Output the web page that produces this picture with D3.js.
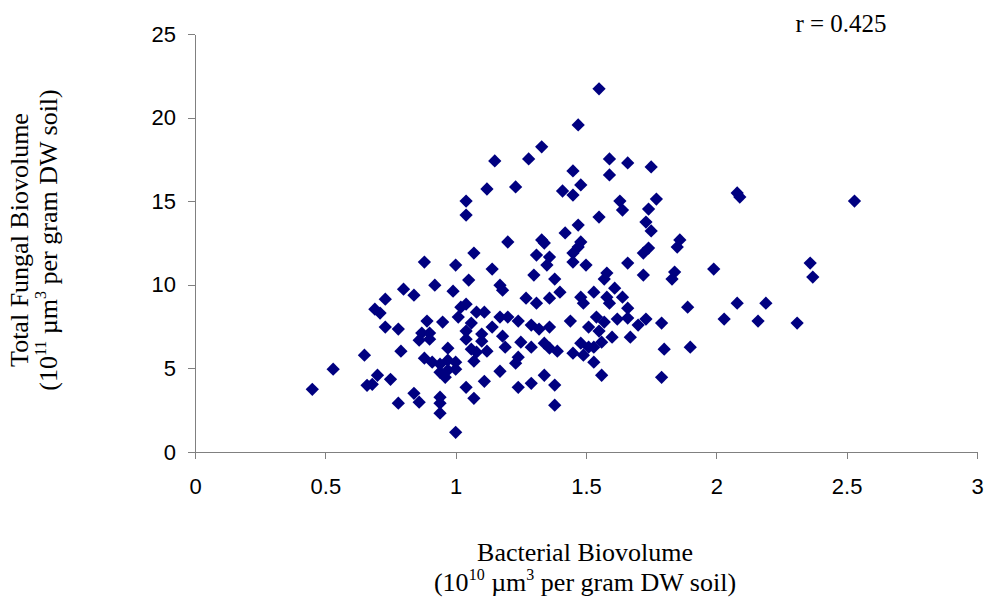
<!DOCTYPE html>
<html>
  <head>
    <title>Bacterial vs Fungal Biovolume</title>
    <style type="text/css">
        body{
            margin: 0;
            background: #fff;
        }
        .axis path, .axis line{
            stroke: #808080;
            stroke-width: 1px;
            shape-rendering: crispEdges;
        }
        .axis text{
            font-family: "Liberation Sans", Arial, sans-serif;
            font-size: 22px;
            fill: #000;
        }
        .title{
            font-family: "Liberation Serif", "Times New Roman", serif;
            font-size: 26px;
            fill: #000;
        }
        .point{
            fill: #000080;
        }
    </style>
  </head>
  <body>
    <div id="chart"></div>

    <script src="https://cdn.jsdelivr.net/npm/d3@7"></script>
    <script>
        //  Bacterial biovolume (10^10 um^3 per g DW soil)
        var bacterial = [
            0.45, 0.53, 0.65, 0.66, 0.68, 0.70, 0.75, 0.78, 0.69, 0.71,
            0.73, 0.73, 0.78, 0.80, 0.79, 0.84, 0.86, 0.84, 0.89, 0.95,
            0.87, 0.90, 0.86, 0.90, 0.97, 0.88, 0.91, 0.94, 0.97, 1.00,
            1.00, 0.94, 0.96, 0.97, 0.94, 0.94, 0.94, 1.00, 0.92, 1.00,
            0.88, 1.05, 0.99, 1.02, 1.04, 1.01, 1.04, 1.04, 1.06, 1.06,
            1.07, 1.04, 1.07, 1.07, 1.14, 1.20, 1.17, 1.18, 1.08, 1.11,
            1.14, 1.17, 1.20, 1.24, 1.10, 1.10, 1.18, 1.19, 1.08, 1.12,
            1.24, 1.23, 1.17, 1.11, 1.24, 1.29, 1.27, 1.31, 1.36, 1.40,
            1.29, 1.32, 1.36, 1.25, 1.29, 1.34, 1.36, 1.39, 1.34, 1.38,
            1.38, 1.33, 1.34, 1.31, 1.36, 1.35, 1.30, 1.38, 1.48, 1.47,
            1.45, 1.45, 1.50, 1.44, 1.51, 1.54, 1.57, 1.48, 1.49, 1.53,
            1.45, 1.48, 1.49, 1.51, 1.53, 1.53, 1.56, 1.55, 1.47, 1.33,
            1.28, 1.15, 1.45, 1.12, 1.23, 1.41, 1.45, 1.48, 1.04, 1.04,
            1.55, 1.47, 1.42, 1.59, 1.66, 1.75, 1.59, 1.63, 1.64, 1.77,
            1.74, 1.73, 1.75, 1.86, 1.85, 1.74, 1.72, 1.66, 1.72, 1.84,
            1.83, 1.99, 1.58, 1.57, 1.61, 1.58, 1.64, 1.59, 1.66, 1.89,
            1.62, 1.66, 1.70, 1.73, 1.79, 1.55, 1.56, 1.60, 1.67, 1.80,
            1.90, 1.79, 2.08, 2.09, 2.53, 2.36, 2.37, 2.08, 2.19, 2.03,
            2.16, 2.31
        ];

        //  Total fungal biovolume (10^11 um^3 per g DW soil), same order
        var fungal = [
            3.75, 4.95, 5.79, 3.99, 4.05, 4.59, 4.35, 2.92, 8.54, 8.31,
            9.14, 7.47, 7.35, 9.74, 6.03, 3.51, 2.98, 9.38, 7.83, 7.77,
            7.11, 7.11, 6.69, 6.75, 6.21, 5.61, 5.37, 5.25, 5.49, 5.37,
            4.95, 4.77, 4.47, 4.89, 3.28, 2.92, 2.32, 1.18, 9.98, 11.18,
            11.36, 10.28, 9.62, 8.66, 8.84, 8.07, 7.23, 6.75, 7.71, 6.15,
            5.43, 3.87, 3.21, 11.90, 10.94, 12.56, 9.98, 9.68, 8.36, 8.36,
            7.47, 8.07, 8.07, 7.83, 7.05, 6.63, 6.93, 6.27, 5.97, 6.03,
            5.67, 5.31, 4.83, 4.23, 3.87, 4.11, 9.20, 8.90, 9.20, 9.56,
            7.59, 7.35, 7.47, 6.57, 6.27, 6.51, 6.21, 6.03, 4.59, 4.00,
            2.80, 12.68, 12.50, 11.78, 11.66, 11.18, 10.58, 10.34, 12.56, 12.26,
            11.90, 11.36, 11.18, 7.83, 7.47, 8.07, 7.77, 9.26, 8.90, 9.56,
            5.91, 6.51, 5.79, 6.27, 6.27, 5.37, 4.59, 21.72, 19.56, 18.25,
            17.53, 17.41, 16.81, 15.73, 15.85, 15.61, 15.37, 15.97, 15.01, 14.17,
            14.05, 13.57, 13.10, 17.53, 17.29, 17.05, 16.57, 15.01, 14.47, 15.13,
            14.53, 13.75, 13.22, 12.68, 12.26, 12.20, 11.90, 11.30, 10.58, 10.76,
            10.34, 10.94, 10.70, 10.34, 9.80, 9.26, 9.26, 8.90, 8.60, 8.66,
            7.95, 8.01, 7.59, 7.95, 7.71, 7.23, 6.57, 6.87, 6.87, 6.15,
            6.27, 4.47, 15.49, 15.25, 15.01, 11.30, 10.46, 8.90, 8.90, 7.95,
            7.83, 7.71
        ];

        var xTicks = [0, 0.5, 1, 1.5, 2, 2.5, 3];
        var yTicks = [0, 5, 10, 15, 20, 25];
        var corrLabel = "r = 0.425";

        var width = 988, height = 599;
        var margin = {left: 195, right: 11, top: 34, bottom: 147};

        var svg = d3.select("#chart").append("svg")
            .attr("width", width)
            .attr("height", height);

        var x = d3.scaleLinear().domain([0, 3])
            .range([margin.left, width - margin.right]);
        var y = d3.scaleLinear().domain([0, 25])
            .range([height - margin.bottom, margin.top]);

        //  Axes
        svg.append("g")
            .attr("class", "axis")
            .attr("transform", "translate(0," + y(0) + ")")
            .call(d3.axisBottom(x).tickValues(xTicks).tickSize(7)
                .tickSizeOuter(0).tickPadding(19).tickFormat(d3.format("")));

        svg.append("g")
            .attr("class", "axis")
            .attr("transform", "translate(" + x(0) + ",0)")
            .call(d3.axisLeft(y).tickValues(yTicks).tickSize(7)
                .tickSizeOuter(0).tickPadding(12));

        //  Points as diamonds (rotated squares)
        var diamond = d3.symbol().type(d3.symbolSquare).size(88);
        svg.append("g").selectAll("path")
            .data(d3.range(bacterial.length))
            .enter().append("path")
            .attr("class", "point")
            .attr("d", diamond)
            .attr("transform", function(i) {
                return "translate(" + x(bacterial[i]) + "," + y(fungal[i]) + ") rotate(45)";
            });

        //  Correlation label
        svg.append("text")
            .attr("class", "title")
            .attr("x", 841)
            .attr("y", 32)
            .attr("text-anchor", "middle")
            .style("font-size", "25px")
            .text(corrLabel);

        //  Helper for a label line with superscripts (shifts in px so they cancel)
        function unitLine(sel, exp) {
            sel.append("tspan").text("(10");
            sel.append("tspan").attr("dy", -11).style("font-size", "16px").text(exp);
            sel.append("tspan").attr("dy", 11).text(" \u00b5m");
            sel.append("tspan").attr("dy", -11).style("font-size", "16px").text("3");
            sel.append("tspan").attr("dy", 11).text(" per gram DW soil)");
        }

        //  X title
        svg.append("text")
            .attr("class", "title")
            .attr("x", 585).attr("y", 561)
            .attr("text-anchor", "middle")
            .text("Bacterial Biovolume");
        unitLine(svg.append("text")
            .attr("class", "title")
            .attr("x", 585).attr("y", 591)
            .attr("text-anchor", "middle"), "10");

        //  Y title
        var yt = svg.append("g").attr("transform", "translate(0,240) rotate(-90)");
        yt.append("text")
            .attr("class", "title")
            .attr("x", 0).attr("y", 28)
            .attr("text-anchor", "middle")
            .text("Total Fungal Biovolume");
        unitLine(yt.append("text")
            .attr("class", "title")
            .attr("x", 0).attr("y", 57)
            .attr("text-anchor", "middle"), "11");
    </script>
  </body>
</html>
